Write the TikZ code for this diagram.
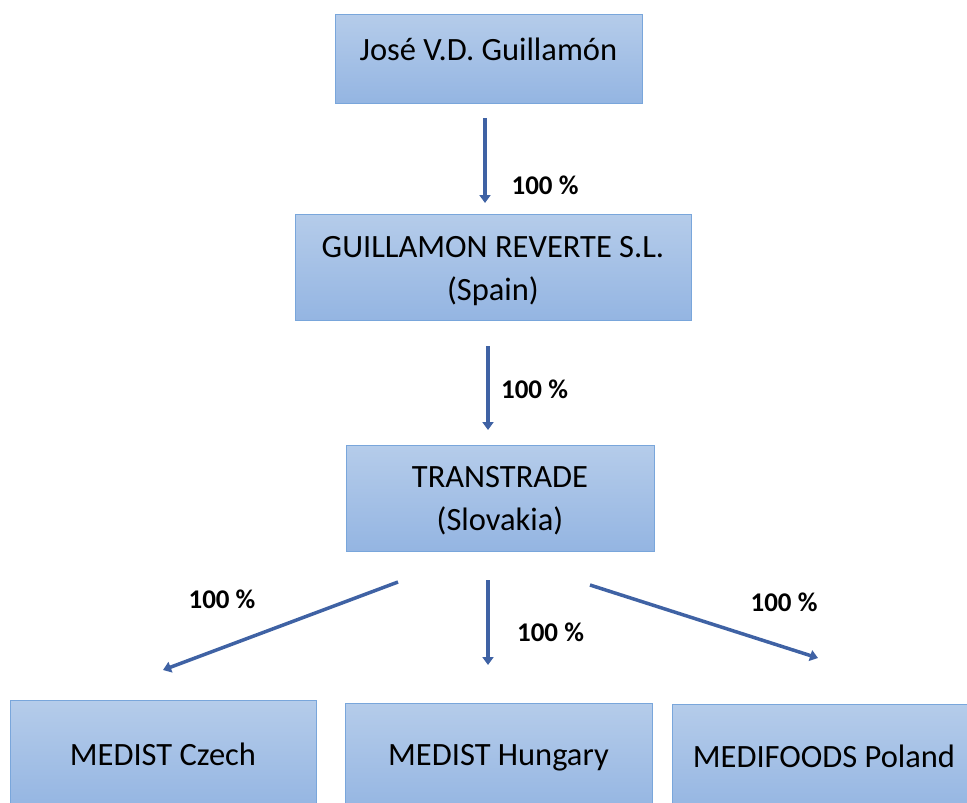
\documentclass[tikz,border=0pt]{standalone}
\usepackage{fontspec}
\setmainfont{Carlito}
\usetikzlibrary{arrows.meta}
\definecolor{boxtop}{HTML}{B5CCEA}
\definecolor{boxbot}{HTML}{94B5E2}
\definecolor{boxline}{HTML}{79A6DB}
\definecolor{arrowc}{HTML}{3F62A4}
\tikzset{
  box/.style={draw=boxline, line width=1pt, top color=boxtop, bottom color=boxbot, inner sep=0pt},
  boxtext/.style={font=\fontsize{32.5}{43}\selectfont, anchor=base, inner sep=0pt, align=center},
  pct/.style={font=\fontsize{27}{30}\selectfont\bfseries, anchor=base, inner sep=0pt},
  link/.style={draw=arrowc, line width=3.5pt, -{Triangle[length=8pt,width=11pt]}},
}
\begin{document}
\begin{tikzpicture}[x=1pt,y=-1pt]
\useasboundingbox (0,0) rectangle (967,803);
% boxes
\node[box, minimum width=307pt, minimum height=89pt] (jose) at (488.5,58.5) {};
\node[box, minimum width=396pt, minimum height=106pt] (gr) at (493,267) {};
\node[box, minimum width=308pt, minimum height=106pt] (tt) at (500,498) {};
\node[box, minimum width=306pt, minimum height=110pt] (cz) at (163,755) {};
\node[box, minimum width=307pt, minimum height=110pt] (hu) at (498.5,758) {};
\node[box, minimum width=300pt, minimum height=110pt] (pl) at (822,759) {};
% texts
\node[boxtext] (tjose) at (488.5,60) {José V.D. Guillamón};
\node[boxtext] (tgr) at (493,257) {GUILLAMON REVERTE S.L.};
\node[boxtext] (tgr2) at (493,300) {(Spain)};
\node[boxtext] (ttt) at (500,487) {TRANSTRADE};
\node[boxtext] (ttt2) at (500,530) {(Slovakia)};
\node[boxtext] (tcz) at (163,765) {MEDIST Czech};
\node[boxtext] (thu) at (498.5,765) {MEDIST Hungary};
\node[boxtext] (tpl) at (824,767) {MEDIFOODS Poland};
% arrow end points
\coordinate (a1s) at (485,118);
\coordinate (a1e) at (485,203);
\coordinate (a2s) at (488,346);
\coordinate (a2e) at (488,430);
\coordinate (a3s) at (488,580);
\coordinate (a3e) at (488,665);
\coordinate (aLs) at (398,582);
\coordinate (aLe) at (163,670);
\coordinate (aRs) at (590,585);
\coordinate (aRe) at (818,658);
\draw[link] (a1s) -- (a1e);
\draw[link] (a2s) -- (a2e);
\draw[link] (a3s) -- (a3e);
\draw[link] (aLs) -- (aLe);
\draw[link] (aRs) -- (aRe);
% labels
\node[pct] (p1) at (545,194) {100 \%};
\node[pct] (p2) at (534.5,398) {100 \%};
\node[pct] (p3) at (550.5,641) {100 \%};
\node[pct] (pL) at (222,608) {100 \%};
\node[pct] (pR) at (784,611) {100 \%};
\end{tikzpicture}
\end{document}
